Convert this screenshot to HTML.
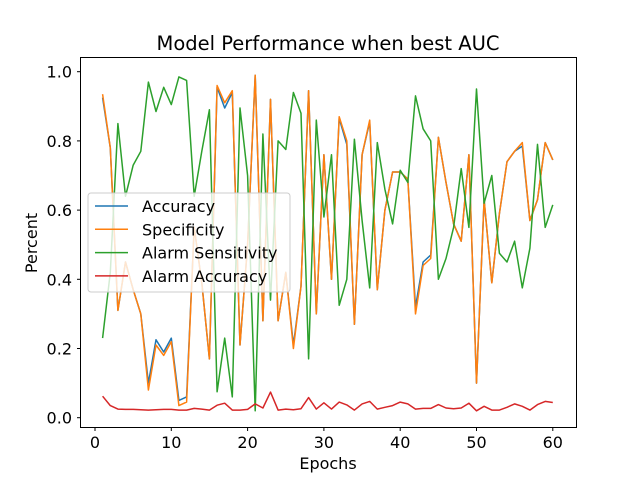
<!DOCTYPE html>
<html><head><meta charset="utf-8"><style>body{margin:0;background:#fff}svg{display:block;font-family:"DejaVu Sans","Liberation Sans",sans-serif}</style></head>
<body>
<svg id="chart" width="640" height="480">
<rect width="640" height="480" fill="#fff"/>
<text x="328" y="50" font-size="19.5" text-anchor="middle">Model Performance when best AUC</text>
<g id="plot"></g>
<rect x="80.5" y="57.5" width="496" height="370" fill="none" stroke="#000" stroke-width="1"/>
<text x="328" y="469" font-size="16" text-anchor="middle">Epochs</text>
<text transform="translate(37,243) rotate(-90)" font-size="16" text-anchor="middle">Percent</text>
<g id="legend">
<rect x="88" y="193" width="202" height="99" rx="3" fill="#fff" fill-opacity="0.8" stroke="#ccc"/>
</g>
</svg>
<script>
const epochs = Array.from({length:60},(_,i)=>i+1);
const accuracy = [0.925,0.78,0.31,0.45,0.37,0.30,0.10,0.225,0.19,0.23,0.05,0.06,0.55,0.39,0.17,0.955,0.895,0.94,0.21,0.50,0.99,0.28,0.92,0.28,0.42,0.21,0.38,0.945,0.30,0.76,0.40,0.865,0.79,0.27,0.76,0.855,0.37,0.60,0.71,0.71,0.69,0.32,0.45,0.47,0.81,0.68,0.56,0.51,0.76,0.10,0.63,0.39,0.59,0.74,0.77,0.785,0.57,0.63,0.795,0.745];
const specificity = [0.935,0.78,0.31,0.45,0.37,0.30,0.08,0.21,0.18,0.22,0.035,0.045,0.55,0.39,0.17,0.96,0.91,0.945,0.21,0.50,0.99,0.28,0.92,0.28,0.42,0.20,0.38,0.945,0.30,0.76,0.40,0.87,0.80,0.27,0.76,0.86,0.37,0.60,0.71,0.71,0.69,0.30,0.44,0.46,0.81,0.68,0.56,0.51,0.76,0.10,0.63,0.39,0.59,0.74,0.77,0.795,0.57,0.63,0.795,0.745];
const alarmSensitivity = [0.23,0.42,0.85,0.64,0.73,0.77,0.97,0.885,0.955,0.905,0.985,0.975,0.64,0.77,0.89,0.075,0.23,0.06,0.895,0.70,0.02,0.82,0.34,0.80,0.775,0.94,0.88,0.17,0.86,0.58,0.76,0.325,0.40,0.805,0.57,0.375,0.795,0.66,0.56,0.715,0.68,0.93,0.835,0.80,0.40,0.46,0.55,0.72,0.55,0.95,0.62,0.70,0.475,0.45,0.51,0.375,0.49,0.79,0.55,0.615];
const alarmAccuracy = [0.062,0.035,0.025,0.024,0.024,0.023,0.022,0.023,0.024,0.024,0.022,0.022,0.027,0.025,0.022,0.036,0.042,0.022,0.022,0.024,0.04,0.028,0.074,0.022,0.025,0.023,0.026,0.058,0.025,0.043,0.025,0.045,0.037,0.022,0.04,0.047,0.025,0.03,0.035,0.045,0.04,0.025,0.027,0.027,0.038,0.028,0.026,0.028,0.042,0.02,0.033,0.022,0.022,0.03,0.04,0.033,0.022,0.038,0.047,0.044];
const xTicks = [0,10,20,30,40,50,60];
const yTicks = [0.0,0.2,0.4,0.6,0.8,1.0];
const seriesNames = ["Accuracy","Specificity","Alarm Sensitivity","Alarm Accuracy"];
const colors = ["#1f77b4","#ff7f0e","#2ca02c","#d62728"];

const X = v => 95 + 7.63*v;
const Y = v => 417.7 - 346*v;
const NS = "http://www.w3.org/2000/svg";
const plot = document.getElementById('plot');
const svg = document.getElementById('chart');
function mk(tag, attrs, parent){const e=document.createElementNS(NS,tag);for(const k in attrs)e.setAttribute(k,attrs[k]);parent.appendChild(e);return e;}

xTicks.forEach(t=>{
  const l=mk('line',{x1:X(t),x2:X(t),y1:427.5,y2:431,stroke:'#000'},svg);
  
  
  const tx=mk('text',{x:X(t),y:448,'font-size':16,'text-anchor':'middle'},svg);
  tx.textContent=t;
  
  
});
yTicks.forEach(t=>{
  const l=mk('line',{x1:77,x2:80.5,y1:Y(t),y2:Y(t),stroke:'#000'},svg);
  
  
  const tx=mk('text',{x:72,y:Y(t)+6,'font-size':16,'text-anchor':'end'},svg);
  tx.textContent=t.toFixed(1);
  
  
});
const all=[accuracy,specificity,alarmSensitivity,alarmAccuracy];
all.forEach((s,i)=>{
  const d=s.map((v,j)=>(j?'L':'M')+X(epochs[j]).toFixed(1)+','+Y(v).toFixed(1)).join('');
  const p=mk('path',{d:d,fill:'none',stroke:colors[i],'stroke-width':1.5,'stroke-linejoin':'round'},plot);
  
  
});
const lg=document.getElementById('legend');
seriesNames.forEach((n,i)=>{
  const y=206+23.3*i;
  const l=mk('line',{x1:95,x2:128,y1:y,y2:y,stroke:colors[i],'stroke-width':1.5},lg);
  
  
  const t=mk('text',{x:142,y:y+6,'font-size':16},lg);
  t.textContent=n;
  
  
});
</script>
</body></html>
